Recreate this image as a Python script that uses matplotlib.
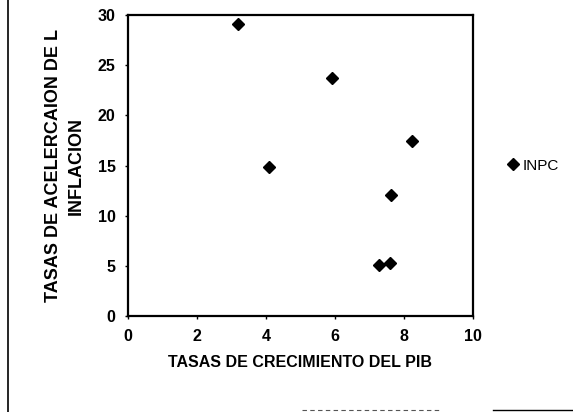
import matplotlib
matplotlib.use('Agg')
import matplotlib.pyplot as plt
from matplotlib.lines import Line2D

# growth of GDP vs acceleration of inflation (INPC)
pib = [3.2, 5.93, 4.1, 8.25, 7.62, 7.29, 7.6]
inpc = [29.1, 23.7, 14.9, 17.45, 12.1, 5.1, 5.25]
x_ticks = [0, 2, 4, 6, 8, 10]
y_ticks = [0, 5, 10, 15, 20, 25, 30]

plt.rcParams['font.family'] = ['Liberation Sans', 'DejaVu Sans']

fig = plt.figure(figsize=(5.73, 4.12), dpi=100)
ax = fig.add_axes([0.2234, 0.233, 0.6016, 0.7306])

ax.plot(pib, inpc, linestyle='none', marker='D', markersize=6.5,
        color='black', label='INPC')

ax.set_xlim(0, 10)
ax.set_ylim(0, 30)
ax.set_xticks(x_ticks)
ax.set_yticks(y_ticks)
ax.tick_params(labelsize=11.5, length=2, width=1, pad=7)
for lbl in ax.get_xticklabels() + ax.get_yticklabels():
    lbl.set_fontweight('bold')
for s in ax.spines.values():
    s.set_linewidth(1.6)
    s.set_color('black')

ax.set_xlabel('TASAS DE CRECIMIENTO DEL PIB', fontsize=11.5, fontweight='bold', labelpad=8)
ax.set_ylabel('TASAS DE ACELERCAION DE L\nINFLACION', fontsize=13, fontweight='bold',
              labelpad=9, linespacing=1.45)

ax.legend(loc='center left', bbox_to_anchor=(1.065, 0.5), frameon=False,
          fontsize=11, handlelength=0.6, handletextpad=0.3, markerscale=0.9)

# pieces of the chart area border left by the scan
fig.add_artist(Line2D([8 / 573, 8 / 573], [0.0, 1.0], color='black', linewidth=1.2))
fig.add_artist(Line2D([493 / 573, 1.0], [2 / 412, 2 / 412], color='black', linewidth=1.0))
fig.add_artist(Line2D([302 / 573, 440 / 573], [2 / 412, 2 / 412], color='#555555',
                      linewidth=0.8, linestyle=(0, (4, 3))))

fig.savefig('out.png', dpi=100)
